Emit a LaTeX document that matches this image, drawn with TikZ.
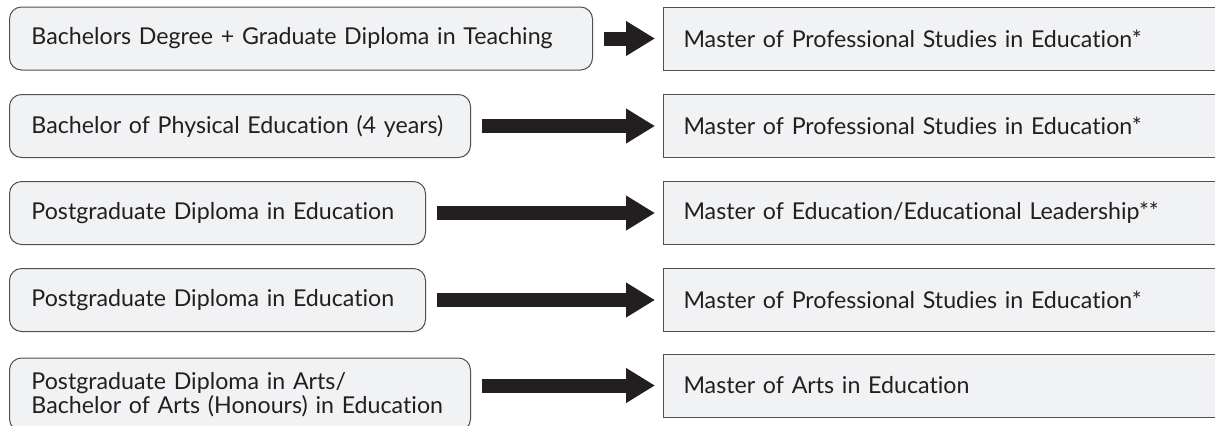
\documentclass[tikz,border=0pt]{standalone}
\usepackage{fontspec}
\setmainfont{Lato}[Ligatures=NoCommon]
\usetikzlibrary{arrows.meta,positioning}
\definecolor{paper}{RGB}{241,242,244}
\definecolor{rule}{RGB}{80,80,82}
\definecolor{ink}{RGB}{35,31,32}
\newcommand{\slashmark}{/}
\tikzset{
  degree/.style={draw=rule,fill=paper,line width=0.5pt,rounded corners=6pt,anchor=west,
    inner xsep=11pt,inner ysep=0pt,align=left,text=ink,font=\fontsize{11.6}{10.5}\selectfont},
  master/.style={draw=rule,fill=paper,line width=0.5pt,anchor=west,minimum height=31.5pt,
    inner xsep=10pt,inner ysep=0pt,text width=263.5pt,align=left,text=ink,font=\fontsize{11.6}{10.5}\selectfont},
  leadsto/.style={draw=ink,line width=7pt,shorten <=5.5pt,shorten >=4pt,-{Triangle[length=14.5pt,width=16.5pt]}}
}
\begin{document}
\begin{tikzpicture}[x=0.5pt,y=-0.5pt]
  \useasboundingbox (0,0) rectangle (1215,425);
  \foreach \i/\yl/\yr/\w/\h/\a/\b in {
      1/38.5/38.5/291.5/31.5/Bachelors Degree + Graduate Diploma in Teaching/Master of Professional Studies in Education*,
      2/126/126/230.5/31.5/Bachelor of Physical Education (4 years)/Master of Professional Studies in Education*,
      3/213/213/208/31.5/Postgraduate Diploma in Education/Master of Education\slashmark Educational Leadership**,
      4/300/300/208/31.5/Postgraduate Diploma in Education/Master of Professional Studies in Education*,
      5/394.5/385.5/230.5/36.5/Postgraduate Diploma in Arts\slashmark\\Bachelor of Arts (Honours) in Education/Master of Arts in Education}{
    \pgfmathsetmacro\tw{\w-22}
    \node[degree,text width=\tw pt,minimum height=\h pt] (l\i) at (9,\yl) {\a};
    \node[master] (r\i) at (663,\yr) {\b};
    \draw[leadsto] (l\i.east |- r\i.west) -- (r\i.west);
  }
\end{tikzpicture}
\end{document}
